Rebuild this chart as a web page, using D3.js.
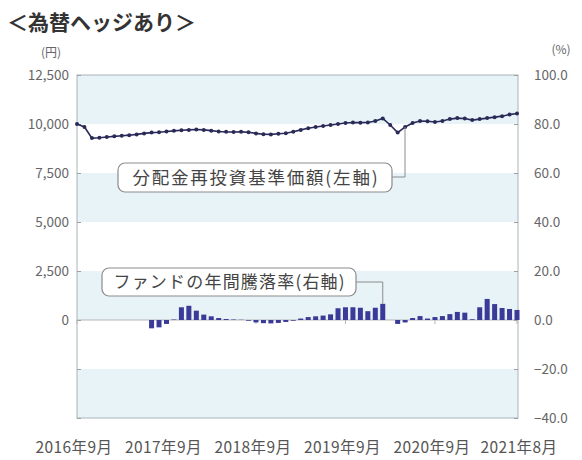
<!DOCTYPE html>
<html><head><meta charset="utf-8">
<script src="https://cdn.jsdelivr.net/npm/d3@7"></script>
<style>
html,body{margin:0;padding:0;background:#fff;}
svg{display:block;font-family:"Noto Sans CJK JP","Noto Sans",sans-serif;}
</style></head>
<body><svg id="c" width="582" height="460"></svg>
<script>
// ---- data ----
const monthCount = 60; // 2016-09 .. 2021-08
const navValues = [
 10000, 9850, 9280, 9300, 9340, 9370, 9400, 9430, 9470, 9520,
 9560, 9580, 9620, 9650, 9680, 9700, 9720, 9700, 9660, 9620,
 9600, 9590, 9600, 9580, 9520, 9480, 9470, 9500, 9530, 9600,
 9700, 9780, 9850, 9900, 9950, 10000, 10050, 10080, 10070, 10080,
 10150, 10280, 9950, 9560, 9850, 10050, 10150, 10140, 10100, 10150,
 10250, 10300, 10280, 10200, 10250, 10300, 10350, 10400, 10480, 10540
];
const barStart = 10;
const returnValues = [
 -3.4, -3.0, -1.6, 0.2, 5.2, 5.8, 3.8, 2.2, 1.5, 0.8,
 0.4, 0.2, 0.1, -0.3, -1.0, -1.3, -1.4, -1.2, -0.8, -0.3,
 0.6, 1.2, 1.5, 1.8, 2.3, 4.8, 5.2, 5.2, 5.0, 3.6,
 5.0, 6.6, 0.0, -1.6, -1.0, 0.8, 1.6, 0.6, 1.2, 1.6,
 2.4, 3.3, 3.0, 0.3, 5.2, 8.6, 6.5, 4.9, 4.5, 4.1
];
const leftTicks = [12500, 10000, 7500, 5000, 2500, 0, -2500, -5000];
const leftTickLabels = ["12,500", "10,000", "7,500", "5,000", "2,500", "0", "", ""];
const rightTicks = [100, 80, 60, 40, 20, 0, -20, -40];
const xLabelIndex = [0, 12, 24, 36, 48, 59];
const xLabels = ["2016年9月", "2017年9月", "2018年9月", "2019年9月", "2020年9月", "2021年8月"];
const title = "＜為替ヘッジあり＞";
const navLabel = "分配金再投資基準価額(左軸)";
const retLabel = "ファンドの年間騰落率(右軸)";

// ---- layout ----
const L = 77, R = 518, T = 75, B = 418;
const svg = d3.select("#c");
const x = d3.scaleLinear().domain([0, monthCount - 1]).range([L, R - 1]);
const yL = d3.scaleLinear().domain([-5000, 12500]).range([B, T]);
const yR = d3.scaleLinear().domain([-40, 100]).range([B, T]);

// bands
for (let k = 0; k < leftTicks.length - 1; k++) {
  svg.append("rect").attr("x", L).attr("width", R - L)
    .attr("y", yL(leftTicks[k])).attr("height", yL(leftTicks[k + 1]) - yL(leftTicks[k]))
    .attr("fill", k % 2 === 0 ? "#e7f3f6" : "#ffffff");
}
// zero line
svg.append("line").attr("x1", L).attr("x2", R).attr("y1", yL(0)).attr("y2", yL(0))
  .attr("stroke", "#b5b5b5").attr("stroke-width", 1);
// frame
svg.append("rect").attr("x", L).attr("y", T).attr("width", R - L).attr("height", B - T)
  .attr("fill", "none").attr("stroke", "#aab4ba").attr("stroke-width", 1);

// axes
const axL = d3.axisLeft(yL).tickValues(leftTicks).tickSize(-4).tickPadding(8)
  .tickFormat((d, i) => leftTickLabels[i]);
const gL = svg.append("g").attr("transform", `translate(${L},0)`).call(axL);
const axR = d3.axisRight(yR).tickValues(rightTicks).tickSize(-4).tickPadding(16)
  .tickFormat(d3.format(".1f"));
const gR = svg.append("g").attr("transform", `translate(${R},0)`).call(axR);
[gL, gR].forEach(g => {
  g.select(".domain").remove();
  g.selectAll(".tick line").attr("stroke", "#a0a0a0");
  g.selectAll(".tick text").attr("fill", "#666").attr("font-size", 13.5)
    .attr("font-family", "'Noto Sans CJK JP',sans-serif");
});
// x ticks on zero line
svg.append("g").selectAll("line").data(xLabelIndex).join("line")
  .attr("x1", d => x(d)).attr("x2", d => x(d))
  .attr("y1", yL(0)).attr("y2", yL(0) + 4).attr("stroke", "#b5b5b5");
// x labels
svg.append("g").selectAll("text").data(xLabels).join("text")
  .attr("x", (d, i) => x(xLabelIndex[i]) - 3 + (i === xLabels.length - 1 ? 5 : 0)).attr("y", 453)
  .attr("text-anchor", "middle").attr("font-size", 15.5).attr("letter-spacing", 0.4)
  .attr("fill", "#555").text(d => d);

// bars
const bw = 5;
svg.append("g").selectAll("rect").data(returnValues).join("rect")
  .attr("x", (d, i) => x(barStart + i) - bw / 2).attr("width", bw)
  .attr("y", d => Math.min(yR(d), yR(0)))
  .attr("height", d => Math.abs(yR(d) - yR(0)))
  .attr("fill", "#3a3a98");

// line
svg.append("path").datum(navValues)
  .attr("d", d3.line().x((d, i) => x(i)).y(d => yL(d)))
  .attr("fill", "none").attr("stroke", "#2a2a58").attr("stroke-width", 1.6);
svg.append("g").selectAll("circle").data(navValues).join("circle")
  .attr("cx", (d, i) => x(i)).attr("cy", d => yL(d)).attr("r", 2)
  .attr("fill", "#2a2a58");

// annotations
function box(x0, y0, w, h, label, fs, ls) {
  svg.append("rect").attr("x", x0).attr("y", y0).attr("width", w).attr("height", h)
    .attr("rx", 7).attr("fill", "#fff").attr("stroke", "#8c8c8c").attr("stroke-width", 1.2);
  svg.append("text").attr("x", x0 + w / 2 + ls / 2).attr("y", y0 + h / 2 + 6)
    .attr("text-anchor", "middle").attr("font-size", fs).attr("letter-spacing", ls)
    .attr("fill", "#444").text(label);
}
// leader for NAV
const lx1 = 405;
const fi = x.invert(lx1), i0 = Math.floor(fi);
const lyTop = yL(navValues[i0] + (navValues[i0 + 1] - navValues[i0]) * (fi - i0));
svg.append("path").attr("d", `M392,177H${lx1}V${lyTop}`).attr("fill", "none")
  .attr("stroke", "#8c8c8c").attr("stroke-width", 1);
box(118, 163, 274, 29, navLabel, 17.5, 1.8);
// leader for returns
const bi = 41;
svg.append("path").attr("d", `M356,282H${x(bi)}V${yR(returnValues[bi - barStart])}`)
  .attr("fill", "none").attr("stroke", "#8c8c8c").attr("stroke-width", 1);
box(102, 268, 254, 28, retLabel, 17, 1.2);

// titles
svg.append("text").attr("x", 7).attr("y", 30).attr("font-size", 21).attr("font-weight", "bold")
  .attr("fill", "#333").text(title);
svg.append("text").attr("x", 51).attr("y", 57).attr("text-anchor", "middle")
  .attr("font-size", 12).attr("fill", "#666").text("(円)");
svg.append("text").attr("x", 561).attr("y", 54).attr("text-anchor", "middle")
  .attr("font-size", 12).attr("fill", "#666").text("(%)");
</script></body></html>
